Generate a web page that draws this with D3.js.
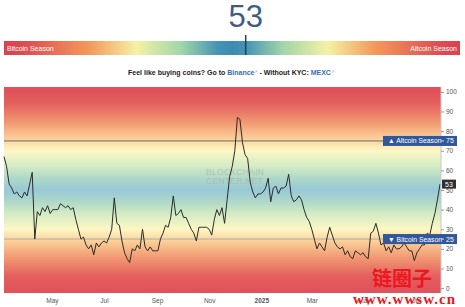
<!DOCTYPE html>
<html>
<head>
<meta charset="utf-8">
<script src="https://cdn.jsdelivr.net/npm/d3@7"></script>
<style>
  body { margin: 0; background: #fff; }
  svg { display: block; font-family: "Liberation Sans", Arial, sans-serif; }
</style>
</head>
<body>
<svg id="chart" width="465" height="307"></svg>
<script>
// altcoin season index, one reading every 3 days from the start date
const startDate = "2024-03-06";
const stepDays = 3;
const indexValues = [
  67, 62, 53, 51, 48, 49, 47, 46, 49, 47, 53, 59, 25, 39, 37, 41, 39, 42, 38, 40,
  40, 40, 43, 42, 41, 42, 40, 41, 35, 30, 25, 26, 22, 20, 22, 17, 23, 21, 23, 24,
  23, 26, 30, 46, 33, 32, 24, 18, 15, 13, 20, 19, 22, 20, 30, 21, 19, 21, 19, 19,
  19, 25, 28, 32, 31, 36, 47, 37, 38, 40, 36, 36, 33, 30, 28, 24, 31, 31, 31, 31,
  30, 27, 35, 40, 37, 41, 33, 45, 57, 62, 70, 87, 86, 74, 68, 66, 54, 49, 46, 48,
  48, 49, 51, 56, 44, 51, 52, 48, 51, 51, 52, 58, 47, 44, 45, 47, 45, 40, 36, 34,
  30, 25, 20, 23, 21, 19, 26, 31, 27, 23, 21, 20, 21, 17, 19, 16, 15, 19, 18, 17,
  18, 16, 15, 28, 29, 33, 28, 22, 23, 19, 21, 18, 22, 20, 20, 21, 23, 21, 19, 19,
  14, 18, 20, 22, 22, 28, 27, 33, 38, 45, 53
];
const currentValue = 53;

const tickDates = ["2024-05-01", "2024-07-01", "2024-09-01", "2024-11-01",
                   "2025-01-01", "2025-03-01", "2025-05-01", "2025-07-01"];
const tickLabels = ["May", "Jul", "Sep", "Nov", "2025", "Mar", "May", "Jul"];

const seasonLevels = [75, 25];
const seasonNames = ["\u25B2 Altcoin Season", "\u25BC Bitcoin Season"];

// colour bands from bitcoin season (0) through neutral (50) to altcoin season (100)
const bandStops = [0, 6, 16, 24, 30, 38, 44, 50, 56, 62, 70, 76, 84, 94, 100];
const bandColors = ["#e0535b", "#e3605d", "#f29b74", "#fbd199", "#fdf7c4", "#d2ebc4",
                    "#aed8c8", "#98c8d8", "#aed8c8", "#d2ebc4", "#fdf7c4", "#fbd199",
                    "#f29b74", "#e3605d", "#e0535b"];
// the header bar uses the same bands, more saturated
const barStops = [0, 5, 19, 29, 39, 47, 50, 53, 61, 71, 81, 95, 100];
const barColors = ["#d9414f", "#de4f52", "#f39b5c", "#f5f1a6", "#9fd5a9", "#4593b6",
                   "#3d8bb1", "#4593b6", "#9fd5a9", "#f5f1a6", "#f39b5c", "#de4f52", "#d9414f"];

const W = 465, H = 307;
const svg = d3.select("#chart");
const defs = svg.append("defs");
const parse = d3.timeParse("%Y-%m-%d");

const plot = { left: 4, right: 441, top: 87, bottom: 293 };

const start = parse(startDate);
const data = indexValues.map((v, i) => ({ date: d3.timeDay.offset(start, i * stepDays), value: v }));

const x = d3.scaleTime()
  .domain([start, data[data.length - 1].date])
  .range([plot.left, plot.right - 1]);
const y = d3.scaleLinear()
  .domain([-2.5, 102.5])
  .range([plot.bottom, plot.top]);

// ---- header: big number, season bar, marker ----
const bar = { x0: 4, x1: 460, y0: 41, y1: 55 };
const barX = d3.scaleLinear().domain([0, 100]).range([bar.x0, bar.x1]);

const hGrad = defs.append("linearGradient").attr("id", "hgrad")
  .attr("gradientUnits", "userSpaceOnUse")
  .attr("x1", barX(0)).attr("x2", barX(100)).attr("y1", 0).attr("y2", 0);
barStops.forEach((s, i) => {
  hGrad.append("stop").attr("offset", s / 100).attr("stop-color", barColors[i]);
});

svg.append("text")
  .attr("x", barX(currentValue)).attr("y", 27)
  .attr("text-anchor", "middle")
  .attr("font-size", 31)
  .attr("fill", "#3d5d86")
  .text(currentValue);

svg.append("rect")
  .attr("x", bar.x0).attr("y", bar.y0)
  .attr("width", bar.x1 - bar.x0).attr("height", bar.y1 - bar.y0)
  .attr("fill", "url(#hgrad)");

svg.append("line")
  .attr("x1", barX(currentValue)).attr("x2", barX(currentValue))
  .attr("y1", 35).attr("y2", bar.y1)
  .attr("stroke", "#233f60").attr("stroke-width", 1.5);

svg.append("text").attr("x", 7).attr("y", 51)
  .attr("font-size", 7).attr("fill", "#fff").text("Bitcoin Season");
svg.append("text").attr("x", 457).attr("y", 51).attr("text-anchor", "end")
  .attr("font-size", 7).attr("fill", "#fff").text("Altcoin Season");

const promo = svg.append("text")
  .attr("x", 231).attr("y", 75)
  .attr("text-anchor", "middle")
  .attr("font-size", 7).attr("font-weight", "bold").attr("fill", "#222");
promo.append("tspan").text("Feel like buying coins? Go to ");
promo.append("tspan").attr("fill", "#3a6db0").text("Binance");
promo.append("tspan").attr("fill", "#9bb3d6").attr("font-size", 4).attr("dy", -2).text("\u2197");
promo.append("tspan").attr("dy", 2).text(" - Without KYC: ");
promo.append("tspan").attr("fill", "#3a6db0").text("MEXC");
promo.append("tspan").attr("fill", "#9bb3d6").attr("font-size", 4).attr("dy", -2).text("\u2197");

// ---- plot background ----
const vGrad = defs.append("linearGradient").attr("id", "vgrad")
  .attr("gradientUnits", "userSpaceOnUse")
  .attr("x1", 0).attr("x2", 0).attr("y1", y(0)).attr("y2", y(100));
bandStops.forEach((s, i) => {
  vGrad.append("stop").attr("offset", s / 100).attr("stop-color", bandColors[i]);
});

svg.append("rect")
  .attr("x", plot.left).attr("y", plot.top)
  .attr("width", plot.right - plot.left).attr("height", plot.bottom - plot.top)
  .attr("fill", "url(#vgrad)");

// watermark
const wm = svg.append("text")
  .attr("x", 206).attr("font-size", 8.5).attr("fill", "#a9a9a9").attr("opacity", 0.55)
  .attr("letter-spacing", 0.3);
wm.append("tspan").attr("x", 206).attr("y", 175).text("BLOCKCHAIN");
wm.append("tspan").attr("x", 206).attr("y", 184).text("CENTER.NET");

// season lines
svg.selectAll(".season")
  .data(seasonLevels)
  .join("line")
  .attr("x1", plot.left).attr("x2", plot.right)
  .attr("y1", d => y(d)).attr("y2", d => y(d))
  .attr("stroke", (d, i) => i === 0 ? "#6b6b6b" : "#a9aeb6")
  .attr("stroke-width", 1);

// index line
const line = d3.line()
  .x(d => x(d.date))
  .y(d => y(d.value));

svg.append("path")
  .datum(data)
  .attr("fill", "none")
  .attr("stroke", "#2b2b2b")
  .attr("stroke-width", 1)
  .attr("stroke-linejoin", "round")
  .attr("d", line);

// ---- axes ----
const yAxis = svg.append("g")
  .attr("transform", `translate(${plot.right},0)`)
  .call(d3.axisRight(y).tickValues(d3.range(0, 101, 10)).tickSize(3).tickPadding(2));
yAxis.select(".domain").attr("stroke", "#c8c8c8").attr("d", `M0,${plot.top}V${plot.bottom}`);
yAxis.selectAll(".tick line").attr("stroke", "#999");
yAxis.selectAll(".tick text").attr("font-size", 6.5).attr("fill", "#555")
  .attr("font-family", "Liberation Sans, Arial, sans-serif");

const xAxis = svg.append("g")
  .attr("transform", `translate(0,${plot.bottom})`)
  .call(d3.axisBottom(x).tickValues(tickDates.map(parse))
    .tickFormat((d, i) => tickLabels[i]).tickSize(0).tickPadding(5));
xAxis.select(".domain").remove();
xAxis.selectAll(".tick text").attr("font-size", 6.5).attr("fill", "#555")
  .attr("font-family", "Liberation Sans, Arial, sans-serif")
  .attr("font-weight", (d, i) => tickLabels[i] === "2025" ? "bold" : "normal");

// season labels on the right
const tags = svg.selectAll(".tag")
  .data(seasonLevels)
  .join("g")
  .attr("transform", d => `translate(383,${y(d)})`);
tags.append("rect")
  .attr("x", 0).attr("y", -5).attr("width", 74).attr("height", 10)
  .attr("fill", "#31569a");
tags.append("text")
  .attr("x", 5).attr("y", 2.5).attr("font-size", 6.8).attr("fill", "#fff")
  .text((d, i) => seasonNames[i]);
tags.append("line")
  .attr("x1", plot.right - 383).attr("x2", plot.right - 380).attr("y1", 0).attr("y2", 0)
  .attr("stroke", "#ddd");
tags.append("text")
  .attr("x", 63).attr("y", 2.5).attr("font-size", 7).attr("fill", "#fff")
  .text(d => d);

// current value tag
const cur = svg.append("g").attr("transform", `translate(${plot.right + 1},${y(currentValue)})`);
cur.append("rect").attr("x", 0).attr("y", -4.5).attr("width", 14).attr("height", 9).attr("fill", "#2f2f2f");
cur.append("text").attr("x", 7).attr("y", 2.5).attr("text-anchor", "middle")
  .attr("font-size", 7).attr("fill", "#fff").text(currentValue);

// site watermark
svg.append("text")
  .attr("x", 372).attr("y", 286)
  .attr("font-size", 20).attr("font-weight", "bold").attr("fill", "#ee1620")
  .attr("font-family", "Noto Sans CJK SC, sans-serif")
  .attr("textLength", 60)
  .text("链圈子");
svg.append("text")
  .attr("x", 353).attr("y", 304)
  .attr("font-size", 15).attr("font-weight", "bold").attr("fill", "#ee1620")
  .attr("font-family", "Liberation Serif, serif")
  .attr("textLength", 102)
  .text("www.wwsw.cn");
</script>
</body>
</html>
